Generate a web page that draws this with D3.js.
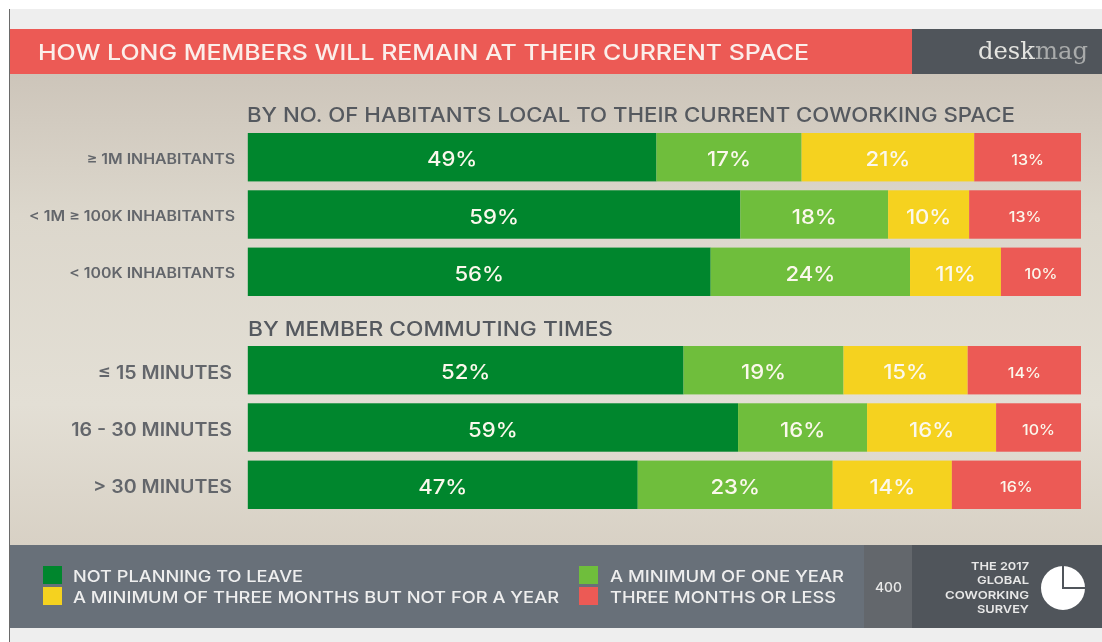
<!DOCTYPE html>
<html><head><meta charset="utf-8">
<script src="https://cdn.jsdelivr.net/npm/d3@7"></script>
<style>html,body{margin:0;padding:0;background:#fff}svg{display:block}text{font-family:Inter,"Noto Sans",sans-serif;filter:blur(0.3px)}</style>
</head><body><div id="chart"></div>
<script>
const title = "HOW LONG MEMBERS WILL REMAIN AT THEIR CURRENT SPACE";
const groupTitles = ["BY NO. OF HABITANTS LOCAL TO THEIR CURRENT COWORKING SPACE", "BY MEMBER COMMUTING TIMES"];
const habitantRows = ["≥ 1M INHABITANTS", "< 1M ≥ 100K INHABITANTS", "< 100K INHABITANTS"];
const commuteRows = ["≤ 15 MINUTES", "16 - 30 MINUTES", "> 30 MINUTES"];
const seriesNames = ["NOT PLANNING TO LEAVE", "A MINIMUM OF ONE YEAR", "A MINIMUM OF THREE MONTHS BUT NOT FOR A YEAR", "THREE MONTHS OR LESS"];
const seriesColors = ["#00862d", "#6fbe3c", "#f5d21f", "#ec5a55"];
const notPlanning = [49.0, 59.0, 55.5, 52.3, 58.9, 46.8];
const oneYear = [17.4, 17.7, 23.9, 19.2, 15.5, 23.4];
const threeMonths = [20.7, 9.7, 10.9, 14.9, 15.5, 14.3];
const lessThree = [12.8, 13.4, 9.6, 13.6, 10.2, 15.5];
const sampleSize = "400";
const surveyLines = ["THE 2017", "GLOBAL", "COWORKING", "SURVEY"];
const pieShares = [25, 75];

const W = 1102, H = 642;
const svg = d3.select("#chart").append("svg").attr("width", W).attr("height", H);
const defs = svg.append("defs");
const grad = defs.append("linearGradient").attr("id", "bg").attr("x1", 0).attr("x2", 0).attr("y1", 0).attr("y2", 1);
[[0, "#cdc5ba"], [0.3, "#dcd7cc"], [0.7, "#e3dfd5"], [1, "#d8d1c5"]].forEach(s => grad.append("stop").attr("offset", s[0]).attr("stop-color", s[1]));

const rect = (x, y, w, h, fill) => svg.append("rect").attr("x", x).attr("y", y).attr("width", w).attr("height", h).attr("fill", fill);
rect(9, 9, W - 9, H - 9, "#eeeeee");
rect(9, 74, W - 9, 471, "url(#bg)");
rect(9, 29, 903, 45, "#ec5a55");
rect(912, 29, 190, 45, "#50555b");
rect(9, 545, 855, 83, "#687079");
rect(864, 545, 48, 83, "#63676c");
rect(912, 545, 190, 83, "#50555b");
rect(9, 9, 1, H - 9, "#6a6a6a");

function put(str, x0, x1, base, size, fill, weight) {
  return svg.append("text").text(str).attr("x", x0).attr("y", base)
    .attr("font-size", size).attr("font-weight", weight || 500).attr("fill", fill)
    .attr("textLength", x1 - x0).attr("lengthAdjust", "spacingAndGlyphs");
}
function stretch(sel, k) {
  sel.each(function () {
    const n = this.getComputedTextLength();
    d3.select(this).attr("textLength", n * k).attr("lengthAdjust", "spacingAndGlyphs");
  });
}

put(title, 38, 809, 60, 21.5, "#fbeeea");
put(groupTitles[0], 247, 1015, 122, 20, "#55595f");
put(groupTitles[1], 248, 613, 336, 20, "#55595f");

// deskmag wordmark
const wm = svg.append("text").attr("x", 978).attr("y", 59).attr("font-size", 25)
  .style("font-family", '"DejaVu Serif",serif').attr("textLength", 110).attr("lengthAdjust", "spacingAndGlyphs");
wm.append("tspan").text("desk").attr("fill", "#e4e4e0");
wm.append("tspan").text("mag").attr("fill", "#a9abab").attr("font-weight", 300);

const seriesValues = [notPlanning, oneYear, threeMonths, lessThree];
const x = d3.scaleLinear().range([247.8, 1081]);
const groups = [
  { rows: habitantRows, offset: 0, range: [133, 296], size: 14, tick: 235, dy: 6.5, k: 1.135 },
  { rows: commuteRows, offset: 3, range: [346, 509], size: 18, tick: 232, dy: 8.5, k: 1.09 }
];
const labelSize = [20.5, 20.5, 20.5, 15];
const labelStretch = [1.08, 1.08, 1.08, 1.07];

groups.forEach(g => {
  const y = d3.scaleBand().domain(g.rows).range(g.range).paddingInner(0.155).paddingOuter(0);
  const ax = svg.append("g").attr("transform", `translate(${g.tick},0)`)
    .call(d3.axisLeft(y).tickSize(0).tickPadding(0));
  ax.select(".domain").remove();
  const tickText = ax.selectAll("text").attr("font-size", g.size).attr("font-weight", 600)
    .attr("fill", "#63666b").style("font-family", 'Inter,"Noto Sans",sans-serif')
    .attr("dy", 0).attr("y", g.dy);
  stretch(tickText, g.k);

  g.rows.forEach((row, i) => {
    const vals = seriesValues.map(s => s[i + g.offset]);
    const total = d3.sum(vals);
    x.domain([0, total]);
    let acc = 0;
    const segs = vals.map((v, si) => { const s = { v, si, a: acc, b: acc + v }; acc += v; return s; });
    const rowG = svg.append("g");
    rowG.selectAll("rect").data(segs).join("rect")
      .attr("x", d => x(d.a)).attr("width", d => x(d.b) - x(d.a))
      .attr("y", y(row)).attr("height", y.bandwidth())
      .attr("fill", d => seriesColors[d.si]);
    const t = rowG.selectAll("text").data(segs).join("text")
      .attr("x", d => x((d.a + d.b) / 2)).attr("y", d => y(row) + y.bandwidth() / 2 + (d.si === 3 ? 7.5 : 9))
      .attr("text-anchor", "middle").attr("font-size", d => labelSize[d.si]).attr("font-weight", 500)
      .attr("fill", "#fbf8ec").text(d => Math.round(d.v) + "%");
    t.each(function (d) {
      const n = this.getComputedTextLength();
      d3.select(this).attr("textLength", n * labelStretch[d.si]).attr("lengthAdjust", "spacingAndGlyphs");
    });
  });
});

// Legend
const legendLayout = [
  { sx: 43, tx0: 73, tx1: 303, sy: 566, base: 582 },
  { sx: 579, tx0: 610, tx1: 844, sy: 566, base: 582 },
  { sx: 43, tx0: 73, tx1: 559, sy: 587, base: 603 },
  { sx: 579, tx0: 610, tx1: 836, sy: 587, base: 603 }
];
seriesNames.forEach((n, i) => {
  const l = legendLayout[i];
  rect(l.sx, l.sy, 19, 18, seriesColors[i]);
  put(n, l.tx0, l.tx1, l.base, 16, "#eeeeee");
});

put(sampleSize, 875, 902, 592, 13, "#e8e8e8");

const surveyBases = [570, 584, 599, 613];
const surveyLefts = [971, 977, 945, 977];
surveyLines.forEach((s, i) => put(s, surveyLefts[i], 1029, surveyBases[i], 11, "#e8e8e8", 600));

// Pie icon: white slices, with a dark gap along the two edges of the small slice
const arcs = d3.pie().sort(null)(pieShares);
const pieR = 22;
const arc = d3.arc().innerRadius(0).outerRadius(pieR);
const pg = svg.append("g").attr("transform", "translate(1063,588)");
pg.selectAll("path").data(arcs).join("path").attr("d", arc).attr("fill", "#ffffff");
pg.selectAll("line").data([arcs[0].startAngle, arcs[0].endAngle]).join("line")
  .attr("x1", 0).attr("y1", 0)
  .attr("x2", a => Math.sin(a) * (pieR + 1)).attr("y2", a => -Math.cos(a) * (pieR + 1))
  .attr("stroke", "#50555b").attr("stroke-width", 2).attr("stroke-linecap", "square");
</script></body></html>
